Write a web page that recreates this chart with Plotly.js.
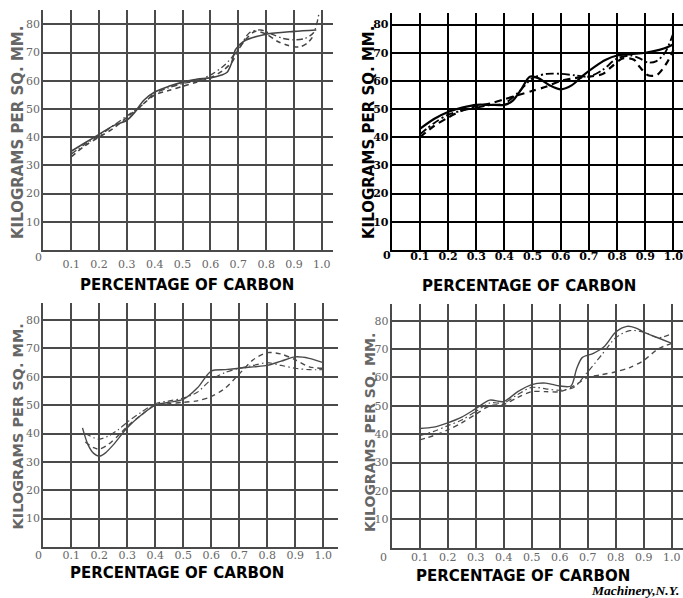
<!DOCTYPE html>
<html><head><meta charset="utf-8">
<script src="https://cdn.plot.ly/plotly-3.0.1.min.js"></script>
<style>html,body{margin:0;padding:0;background:#fff;}#c{width:683px;height:598px;}</style>
</head><body><div id="c"></div>
<script>
// ---- data (percentage of carbon vs kilograms per sq. mm) ----
const xTickVals = [0.1,0.2,0.3,0.4,0.5,0.6,0.7,0.8,0.9,1.0];
const xTickText = ["0.1","0.2","0.3","0.4","0.5","0.6","0.7","0.8","0.9","1.0"];
const yTickVals = [10,20,30,40,50,60,70,80];
const yTickText = ["10","20","30","40","50","60","70","80"];

// Panel 1 (top left)
const p1SolidX = [0.1,0.15,0.2,0.25,0.3,0.33,0.36,0.4,0.45,0.5,0.55,0.6,0.64,0.66,0.675,0.69,0.72,0.8,0.9,0.98];
const p1SolidY = [35,38,41,44,46,49,53,56,58,59.5,60.5,61,62,63,66,71,74,76.5,77.5,78];
const p1DashX = [0.1,0.15,0.2,0.25,0.3,0.35,0.4,0.45,0.5,0.55,0.6,0.65,0.68,0.7,0.73,0.76,0.8,0.84,0.88,0.92,0.95,0.97];
const p1DashY = [33,37,40,43,47,51,55,56.5,58,59.5,61,64,67,71,75,77.5,76.5,74,72.5,72,73.5,76];
const p1DotX = [0.1,0.15,0.2,0.25,0.3,0.35,0.4,0.45,0.5,0.55,0.6,0.65,0.7,0.74,0.78,0.82,0.86,0.9,0.94,0.97,0.99];
const p1DotY = [34,37.5,40.5,44,47.5,51,55.5,57.5,59,60,62,65.5,71,77,78,76.5,75,74.5,75,77,84];

// Panel 2 (top right)
const p2SolidX = [0.1,0.15,0.2,0.25,0.3,0.35,0.4,0.43,0.46,0.49,0.52,0.56,0.6,0.64,0.68,0.72,0.76,0.8,0.85,0.9,0.95,0.98,1.0];
const p2SolidY = [43,46.5,49,50.5,51.5,51.5,51.5,53,57,61.5,61,58.5,57,58.5,62,65,67.5,69,69.5,70,71,72,73];
const p2DashX = [0.1,0.15,0.2,0.25,0.3,0.35,0.4,0.45,0.5,0.55,0.6,0.65,0.7,0.75,0.78,0.82,0.86,0.88,0.91,0.94,0.96,0.98,1.0];
const p2DashY = [40,44,47,49.5,51,52,53.5,55,56.5,58,60,61,61.5,62.5,65,68,67.5,65,62,62,64,67,71];
const p2DotX = [0.1,0.15,0.2,0.25,0.3,0.35,0.4,0.45,0.5,0.55,0.6,0.65,0.7,0.75,0.8,0.85,0.88,0.91,0.94,0.97,1.0];
const p2DotY = [41,45,48,49.5,50.5,51.5,52,56,61,62.5,62.5,62,61.5,64,68,69,68,66.5,67,70,77];

// Panel 3 (bottom left)
const p3SolidX = [0.14,0.16,0.18,0.2,0.22,0.25,0.3,0.35,0.4,0.45,0.5,0.55,0.6,0.65,0.7,0.75,0.8,0.85,0.9,0.95,1.0];
const p3SolidY = [42,36,33,32,33,36,42,46.5,50,51,52,56,62,62.5,63,63.5,64,65.5,67,66.5,65];
const p3DashX = [0.15,0.18,0.2,0.23,0.27,0.3,0.35,0.4,0.45,0.5,0.55,0.6,0.65,0.7,0.75,0.8,0.85,0.9,0.95,1.0];
const p3DashY = [37,35,34.5,36,39.5,42.5,46.5,50,50.5,51,51.5,53,56,61,66,68.5,68,66,63.5,63];
const p3DotX = [0.15,0.18,0.2,0.23,0.27,0.3,0.35,0.4,0.45,0.5,0.55,0.6,0.65,0.7,0.75,0.8,0.85,0.9,0.95,1.0];
const p3DotY = [40,38.5,38,39,41.5,44,47.5,50.5,51.5,52.5,54.5,59,61.5,63,64,65,64,63,62.5,62.5];

// Panel 4 (bottom right)
const p4SolidX = [0.1,0.15,0.2,0.25,0.3,0.35,0.4,0.45,0.5,0.55,0.6,0.64,0.66,0.68,0.72,0.76,0.8,0.84,0.87,0.9,0.95,1.0];
const p4SolidY = [42,42.5,44,46,49,52,51.5,55,57.5,58,57,57,63,67,68.5,71,76,78,77.5,76,74,72];
const p4DashX = [0.1,0.15,0.2,0.25,0.3,0.35,0.4,0.45,0.5,0.55,0.6,0.65,0.7,0.75,0.8,0.85,0.9,0.95,1.0];
const p4DashY = [38,39.5,41.5,44,47,50,50.5,53,55,55,55,57,60,61,62,63.5,66,70,72];
const p4DotX = [0.1,0.15,0.2,0.25,0.3,0.35,0.4,0.45,0.5,0.55,0.6,0.65,0.7,0.75,0.8,0.85,0.9,0.95,0.99];
const p4DotY = [39.5,41,43,45,48,51,51,54,56.5,56,55.5,56.5,62,68,74,76.5,76,74,75];

const yTitle = "KILOGRAMS PER SQ. MM.";
const xTitle = "PERCENTAGE OF CARBON";
const credit = "Machinery,N.Y.";

// ---- layout helpers ----
const W = 683, H = 598;
const px = v => v / W;
const py = v => 1 - v / H;

const panels = [
  {sx:p1SolidX, sy:p1SolidY, dx:p1DashX, dy:p1DashY, ox:p1DotX, oy:p1DotY,
   dom:[43.3,333,250,10.2], xr:1.04, yr:85, col:'#444', grid:'#4a4a4a', txt:'#666', gw:2, lw:1.6, bold:false,
   yt:[18,133], xt:[187,285], zero:[38,257], stand:3, ysz:15},
  {sx:p2SolidX, sy:p2SolidY, dx:p2DashX, dy:p2DashY, ox:p2DotX, oy:p2DotY,
   dom:[391.7,683,250,13], xr:1.034, yr:84.1, col:'#000', grid:'#000', txt:'#000', gw:2, lw:2.2, bold:true,
   yt:[369,133], xt:[529,286], zero:[386.7,255], stand:-5, ysz:15},
  {sx:p3SolidX, sy:p3SolidY, dx:p3DashX, dy:p3DashY, ox:p3DotX, oy:p3DotY,
   dom:[43.3,338,547,303], xr:1.053, yr:86, col:'#4a4a4a', grid:'#4a4a4a', txt:'#666', gw:2, lw:1.4, bold:false,
   yt:[17.5,427], xt:[177,573], zero:[38,555], stand:-3, ysz:14.5},
  {sx:p4SolidX, sy:p4SolidY, dx:p4DashX, dy:p4DashY, ox:p4DotX, oy:p4DotY,
   dom:[391.7,683,547.7,303.7], xr:1.04, yr:86, col:'#4a4a4a', grid:'#4a4a4a', txt:'#666', gw:2, lw:1.4, bold:false,
   yt:[370,433], xt:[522.5,576], zero:[383,557], stand:-2, ysz:14}
];

const data = [];
const layout = {
  width: W, height: H, margin:{l:0,r:0,t:0,b:0},
  paper_bgcolor:'#ffffff', plot_bgcolor:'#ffffff', showlegend:false,
  annotations: []
};

panels.forEach((p, i) => {
  const n = i === 0 ? '' : String(i + 1);
  const xa = 'x' + n, ya = 'y' + n;
  const base = {type:'scatter', mode:'lines', xaxis:xa, yaxis:ya, hoverinfo:'skip'};
  const ln = (dash, w) => ({color:p.col, width:w, dash:dash, shape:'spline', smoothing:0.8});
  data.push(Object.assign({x:p.sx, y:p.sy, line:ln('solid', p.lw)}, base));
  data.push(Object.assign({x:p.dx, y:p.dy, line:ln(p.bold ? '7px,5px' : '5px,4px', p.lw)}, base));
  data.push(Object.assign({x:p.ox, y:p.oy, line:ln(p.bold ? '8px,3px,2px,3px' : '6px,3px,1.5px,3px', p.lw*0.85)}, base));

  const tf = {family:'DejaVu Serif, serif', size:11, color:p.txt, weight: p.bold ? 'bold' : 'normal'};
  layout['xaxis' + n] = {
    domain:[px(p.dom[0]), px(p.dom[1])], anchor:ya, range:[0, p.xr],
    tickvals:xTickVals, ticktext:xTickText, ticks:'', tickfont:tf,
    showgrid:true, gridcolor:p.grid, gridwidth:p.gw, zeroline:false,
    showline:true, linecolor:p.grid, linewidth:p.gw, fixedrange:true,
    ticklabelstandoff:p.stand, ticklabeloverflow:'allow'
  };
  layout['yaxis' + n] = {
    domain:[py(p.dom[2]), py(p.dom[3])], anchor:xa, range:[0, p.yr],
    tickvals:yTickVals, ticktext:yTickText, ticks:'', tickfont:tf,
    showgrid:true, gridcolor:p.grid, gridwidth:p.gw, zeroline:false,
    showline:true, linecolor:p.grid, linewidth:p.gw, fixedrange:true,
    ticklabelstandoff:-1, ticklabeloverflow:'allow'
  };
  layout.annotations.push({
    text: '<b>' + yTitle + '</b>', textangle:-90,
    xref:'paper', yref:'paper', x:px(p.yt[0]), y:py(p.yt[1]),
    xanchor:'center', yanchor:'middle', showarrow:false,
    font:{family:'DejaVu Sans, sans-serif', size:p.ysz, color:p.bold ? '#000' : '#666'}
  });
  layout.annotations.push({
    text:'<b>' + xTitle + '</b>',
    xref:'paper', yref:'paper', x:px(p.xt[0]), y:py(p.xt[1]),
    xanchor:'center', yanchor:'middle', showarrow:false,
    font:{family:'DejaVu Sans, sans-serif', size:15, color:'#000'}
  });
  layout.annotations.push({
    text:'0', xref:'paper', yref:'paper', x:px(p.zero[0]), y:py(p.zero[1]),
    xanchor:'center', yanchor:'middle', showarrow:false,
    font:{family:'DejaVu Serif, serif', size:11, color:p.txt, weight: p.bold ? 'bold' : 'normal'}
  });
});

layout.annotations.push({
  text:'<b><i>' + credit + '</i></b>', xref:'paper', yref:'paper',
  x:px(681), y:py(590), xanchor:'right', yanchor:'middle', showarrow:false,
  font:{family:'Liberation Serif, serif', size:13.5, color:'#000'}
});

Plotly.newPlot('c', data, layout, {staticPlot:true, displayModeBar:false});
</script></body></html>
